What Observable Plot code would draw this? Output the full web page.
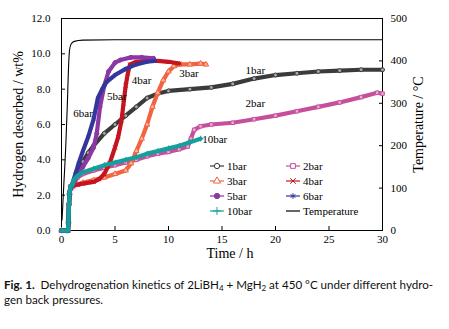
<!DOCTYPE html>
<html><head><meta charset="utf-8">
<script src="https://cdn.jsdelivr.net/npm/d3@7"></script>
<script src="https://cdn.jsdelivr.net/npm/@observablehq/plot@0.6"></script>
<style>
body{margin:0;background:#fff;}
#wrap{position:relative;width:449px;height:262px;}
.leg{position:absolute;font-family:"Liberation Serif";font-size:11px;line-height:12px;white-space:nowrap;display:flex;align-items:center;}
.leg svg{margin-right:2px;}
.cap{font-family:Lato;font-size:11.6px;margin:15px 0 0 4px;line-height:15px;white-space:nowrap;color:#111;}
.sb{font-size:8px;vertical-align:-2px;line-height:0;}
</style></head><body>
<div id="wrap"><div id="chart"></div></div>
<div class="cap"><b>Fig. 1.</b>&nbsp; Dehydrogenation kinetics of 2LiBH<span class="sb">4</span> + MgH<span class="sb">2</span> at 450 °C under different hydro-<br>gen back pressures.</div>
<script>
// ---- data (time h, hydrogen wt%) ----
const bar1 = [[0,0],[0.5,0],[0.6,0],[0.65,0.5],[0.7,1.5],[0.75,2.1],[0.85,2.5],[1,2.6],[1.5,3.3],[2,3.9],[2.5,4.4],[3,4.8],[4,5.5],[5,6.0],[6,6.5],[7,7.0],[8,7.5],[9,7.75],[10,7.9],[12,8.0],[14,8.1],[16,8.3],[18,8.6],[20,8.8],[22,8.9],[24,9.0],[26,9.05],[28,9.1],[30,9.1]];
const bar2 = [[0,0],[0.5,0],[0.6,0],[0.65,0.5],[0.7,1.5],[0.75,2.1],[0.85,2.5],[1,2.6],[1.5,3.0],[2,3.2],[3,3.4],[4,3.55],[5,3.7],[6,3.85],[7,4.0],[8,4.2],[9,4.35],[10,4.45],[11,4.6],[11.8,4.75],[12.1,5.2],[12.4,5.7],[13,5.9],[14,6.0],[16,6.1],[18,6.3],[20,6.5],[22,6.75],[24,7.0],[26,7.25],[28,7.55],[29.5,7.8],[30,7.75]];
const bar3 = [[0,0],[0.5,0],[0.6,0],[0.65,0.5],[0.7,1.5],[0.75,2.1],[0.85,2.4],[1,2.5],[1.5,2.6],[2,2.7],[3,2.85],[4,3.0],[5,3.2],[6,3.4],[6.5,3.8],[7,4.5],[7.5,5.2],[8,6.0],[8.5,7.0],[9,7.8],[9.5,8.5],[10,9.0],[10.5,9.3],[11,9.4],[12,9.4],[13,9.45],[13.5,9.4]];
const bar4 = [[0,0],[0.5,0],[0.6,0],[0.65,0.5],[0.7,1.5],[0.75,2.1],[0.85,2.4],[1,2.5],[1.5,2.6],[2,2.65],[3,2.75],[3.5,2.9],[4,3.2],[4.5,3.8],[5,4.7],[5.3,5.3],[5.6,6.2],[5.8,7.2],[6.0,8.2],[6.2,8.9],[6.4,9.4],[7,9.55],[8,9.6],[9,9.6],[10,9.55],[11,9.45]];
const bar5 = [[0,0],[0.5,0],[0.6,0],[0.65,0.5],[0.7,1.5],[0.75,2.1],[0.85,2.4],[1,2.5],[1.3,2.9],[1.6,3.2],[2,3.6],[2.5,4.1],[3,4.7],[3.3,5.5],[3.6,7.0],[4,8.2],[4.4,9.0],[5,9.5],[5.5,9.65],[6.5,9.8],[7.5,9.8],[8.6,9.75]];
const bar6 = [[0,0],[0.5,0],[0.6,0],[0.65,0.5],[0.7,1.5],[0.75,2.1],[0.85,2.5],[1,2.6],[1.3,3.2],[1.6,3.8],[2,4.5],[2.5,5.3],[3,6.3],[3.4,7.5],[3.8,8.0],[4.2,8.4],[5,8.8],[6,9.15],[7,9.4],[8,9.55],[8.7,9.6]];
const bar10 = [[0,0],[0.5,0],[0.6,0],[0.65,0.5],[0.7,1.5],[0.75,2.1],[0.85,2.5],[1,2.6],[1.2,2.9],[1.5,3.1],[2,3.3],[3,3.5],[4,3.7],[5,3.85],[6,4.0],[7,4.15],[8,4.35],[9,4.5],[10,4.65],[11,4.8],[12,5.0],[13,5.2]];
const tempT = [0.05,0.2,0.4,0.55,0.65,0.75,0.9,1.2,2,5,30];
const tempC = [25,100,200,300,380,425,440,446,449,450,450];
const xTicks = [0,5,10,15,20,25,30];
const yTicks = [0,2,4,6,8,10,12];
const tTicks = [0,100,200,300,400,500];
const names = ["1bar","2bar","3bar","4bar","5bar","6bar","10bar","Temperature"];
const labelText = ["6bar","5bar","4bar","3bar","1bar","2bar","10bar"];
const labelT = [1.1,4.26,6.57,11.0,17.2,17.2,13.15];
const labelW = [6.62,7.58,8.49,8.89,9.05,7.19,5.15];

// ---- styles ----
const seriesData = [bar1,bar2,bar3,bar4,bar5,bar6,bar10];
const colors = ["#3b3b3b","#c64f9c","#f2643f","#c3141f","#8b37a6","#34369c","#14a09c","#000"];
const symbols = ["circle","square","triangle","times","circle","asterisk","plus"];
const filled = [false,false,false,false,true,false,false];
const d3sym = {circle:d3.symbolCircle,square:d3.symbolSquare,triangle:d3.symbolTriangle,times:d3.symbolTimes,asterisk:d3.symbolAsterisk,plus:d3.symbolPlus};
const TMAX = 500, YMAX = 12;

const marks = [];
seriesData.forEach((data,i)=>{
  marks.push(Plot.line(data,{x:d=>d[0],y:d=>d[1],stroke:colors[i],strokeWidth:4.2}));
  marks.push(Plot.dot(data,{x:d=>d[0],y:d=>d[1],symbol:symbols[i],stroke:colors[i],fill:filled[i]?colors[i]:"#fff",fillOpacity:filled[i]?1:0.55,r:2,strokeWidth:1}));
});
const tempRows = tempT.map((t,i)=>({t, y: tempC[i]*YMAX/TMAX}));
marks.push(Plot.line(tempRows,{x:"t",y:"y",stroke:"#000",strokeWidth:1.1,curve:"monotone-x"}));

const chart = Plot.plot({
  width:449, height:262,
  marginLeft:61, marginRight:67, marginTop:18, marginBottom:32,
  x:{domain:[0,30]},
  y:{domain:[0,YMAX]},
  style:{fontFamily:"Liberation Serif",fontSize:"11px",color:"#000",background:"#fff"},
  marks:[
    Plot.frame({stroke:"#000"}),
    Plot.axisX({ticks:xTicks,tickSize:-4,tickPadding:9,label:null,fontSize:11}),
    Plot.axisY({ticks:yTicks,tickSize:-4,tickPadding:15,tickFormat:d=>d.toFixed(1),label:null,fontSize:11}),
    Plot.axisY({anchor:"right",ticks:tTicks.map(t=>t*YMAX/TMAX),tickSize:-4,tickPadding:12,tickFormat:d=>Math.round(d*TMAX/YMAX),label:null,fontSize:11}),
    ...marks,
    Plot.text(labelText,{x:(d,i)=>labelT[i],y:(d,i)=>labelW[i],text:d=>d,textAnchor:"start",fontSize:11,fill:"#000"}),
    Plot.text(["Hydrogen desorbed / wt%"],{frameAnchor:"left",dx:-43,rotate:-90,textAnchor:"middle",lineAnchor:"middle",fontSize:14}),
    Plot.text(["Temperature / \u00B0C"],{frameAnchor:"right",dx:36,rotate:-90,textAnchor:"middle",lineAnchor:"middle",fontSize:14}),
    Plot.text(["Time / h"],{frameAnchor:"bottom",dx:8,dy:23,textAnchor:"middle",lineAnchor:"middle",fontSize:14})
  ]
});
document.getElementById("chart").appendChild(chart);

// ---- legend (HTML overlay) ----
const wrap = document.getElementById("wrap");
const legOrder = [0,1,2,3,4,5,6,7];
legOrder.forEach((k,j)=>{
  const col = j%2, row = Math.floor(j/2);
  const div = document.createElement("div");
  div.className = "leg";
  div.style.left = (col===0?209:285)+"px";
  div.style.top = (160+row*15)+"px";
  const svg = d3.create("svg").attr("width",16).attr("height",12);
  svg.append("line").attr("x1",1).attr("x2",15).attr("y1",6).attr("y2",6).attr("stroke",colors[k]).attr("stroke-width",1.2);
  if(k<7){
    svg.append("path").attr("d",d3.symbol(d3sym[symbols[k]],22)()).attr("transform","translate(8,6)")
      .attr("stroke",colors[k]).attr("stroke-width",1).attr("fill",filled[k]?colors[k]:"#fff");
  }
  div.appendChild(svg.node());
  const sp = document.createElement("span"); sp.textContent = names[k];
  div.appendChild(sp);
  wrap.appendChild(div);
});
</script>
</body></html>
